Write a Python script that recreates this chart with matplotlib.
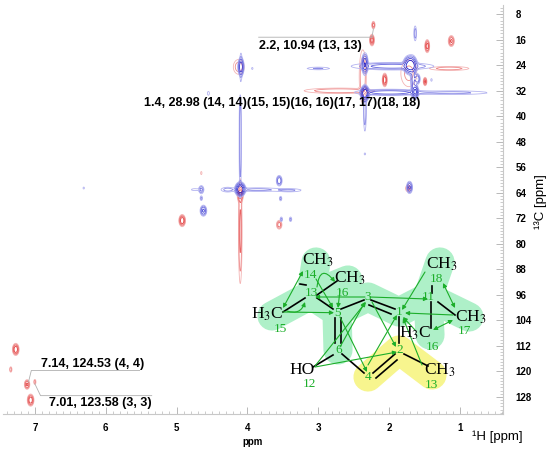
import numpy as np
import matplotlib
matplotlib.use("Agg")
import matplotlib.pyplot as plt
from matplotlib.ticker import MultipleLocator

plt.rcParams['font.family'] = ['Liberation Sans', 'DejaVu Sans']
plt.rcParams['mathtext.fontset'] = 'stix'

# ---- peak table (1H ppm, 13C ppm, 1H width, 13C width, intensity) ----
# positive = blue, negative = red
pos_h = [4.10, 4.10, 4.10, 3.85, 4.28, 3.40, 4.65, 4.74, 4.65, 4.62, 3.55, 3.53,
         3.52, 3.39, 1.71, 6.31, 2.34, 4.55, 4.09, 4.09, 3.93, 3.00, 1.70, 2.34,
         1.95, 2.34, 2.00, 2.34, 1.63, 1.10, 1.63, 1.60, 1.40, 1.66]
pos_c = [62.9, 50.0, 40.0, 63.0, 63.0, 63.2, 63.0, 63.0, 65.7, 69.6, 60.2, 65.8,
         72.3, 72.3, 62.3, 62.5, 51.8, 32.8, 24.5, 24.5, 25.0, 25.0, 23.9, 23.6,
         24.3, 32.8, 32.5, 38.0, 32.3, 32.6, 14.0, 28.3, 28.6, 28.0]
pos_wh = [0.03, 0.010, 0.008, 0.22, 0.06, 0.12, 0.02, 0.05, 0.012, 0.022, 0.02, 0.012,
          0.012, 0.012, 0.02, 0.010, 0.010, 0.012, 0.02, 0.01, 0.010, 0.12, 0.04, 0.02,
          0.30, 0.025, 0.25, 0.012, 0.02, 0.35, 0.012, 0.02, 0.010, 0.02]
pos_wc = [0.9, 9.0, 4.0, 0.4, 0.5, 0.35, 0.7, 0.3, 0.5, 0.8, 0.8, 0.5,
          0.5, 0.5, 0.9, 0.3, 0.3, 0.5, 1.3, 3.0, 0.3, 0.3, 1.2, 1.5,
          0.6, 1.0, 0.5, 4.0, 1.0, 0.4, 1.5, 0.8, 0.4, 3.0]
pos_amp = [1.0, 0.10, 0.05, 0.08, 0.08, 0.07, 0.15, 0.05, 0.08, 0.3, 0.25, 0.08,
           0.08, 0.08, 0.3, 0.05, 0.05, 0.06, 0.4, 0.08, 0.05, 0.07, 1.0, 0.5,
           0.2, 1.0, 0.2, 0.12, 0.6, 0.08, 0.1, 0.25, 0.05, 0.15]

neg_h = [2.22, 2.24, 1.46, 1.12, 2.06, 1.49, 1.15, 2.37, 2.70, 1.72, 4.10, 4.10,
         4.12, 4.92, 3.55, 4.65, 1.73, 7.27, 7.34, 7.11, 7.00, 7.06]
neg_c = [11.4, 16.1, 18.0, 16.4, 28.6, 29.1, 25.0, 27.5, 32.0, 26.5, 76.0, 64.8,
         24.5, 72.7, 74.0, 57.8, 62.6, 113.1, 119.4, 124.1, 123.3, 129.0]
neg_wh = [0.012, 0.015, 0.015, 0.02, 0.015, 0.012, 0.18, 0.03, 0.30, 0.08, 0.014, 0.02,
          0.05, 0.02, 0.02, 0.008, 0.02, 0.02, 0.010, 0.018, 0.010, 0.02]
neg_wc = [0.6, 0.8, 0.9, 0.8, 0.9, 0.6, 0.4, 5.0, 0.5, 3.0, 9.0, 1.0,
          1.5, 0.8, 0.7, 0.4, 0.6, 0.8, 0.5, 0.7, 0.5, 0.8]
neg_amp = [0.2, 0.4, 0.4, 0.3, 0.5, 0.3, 0.1, 0.12, 0.12, 0.08, 0.16, 0.3,
           0.1, 0.5, 0.2, 0.06, 0.15, 0.5, 0.12, 0.3, 0.10, 0.5]

levels = [0.03, 0.06, 0.12, 0.25, 0.5, 2.0]
blue_cols = ['#b4b4f0', '#8c8ce6', '#6464dc', '#3c3cd2', '#1e1ec8']
red_cols = ['#f4b4b4', '#ee8c8c', '#e86464', '#e23c3c', '#dc1e1e']

# annotations
labels = ['2.2, 10.94 (13, 13)',
          '1.4, 28.98 (14, 14)(15, 15)(16, 16)(17, 17)(18, 18)',
          '7.14, 124.53 (4, 4)',
          '7.01, 123.58 (3, 3)']
label_h = [3.84, 5.46, 6.92, 6.80]
label_c = [17.9, 35.8, 117.6, 129.8]


def surface(hh, cc, ph, pc, wh, wc, amp):
    z = np.zeros_like(hh)
    for h, c, a, b, s in zip(ph, pc, wh, wc, amp):
        z += s * np.exp(-0.5 * ((hh - h) / a) ** 2 - 0.5 * ((cc - c) / b) ** 2)
    return z


H = np.linspace(0.39, 7.46, 1500)
C = np.linspace(5.0, 133.3, 520)
HH, CC = np.meshgrid(H, C)
zpos = surface(HH, CC, pos_h, pos_c, pos_wh, pos_wc, pos_amp)
zneg = surface(HH, CC, neg_h, neg_c, neg_wh, neg_wc, neg_amp)

fig = plt.figure(figsize=(5.5, 4.49), dpi=100)
ax = fig.add_axes([3 / 550, 35.5 / 449, 500 / 550, 408.5 / 449])
ax.contour(HH, CC, zneg, levels=levels, colors=red_cols, linewidths=0.6)
ax.contour(HH, CC, zpos, levels=levels, colors=blue_cols, linewidths=0.6)

ax.set_xlim(7.45, 0.39)
ax.set_ylim(133.2, 5.1)
ax.yaxis.tick_right()
ax.xaxis.set_major_locator(MultipleLocator(1))
ax.xaxis.set_minor_locator(MultipleLocator(0.1))
ax.yaxis.set_major_locator(MultipleLocator(8))
ax.yaxis.set_minor_locator(MultipleLocator(1))
ax.set_xticks(np.arange(1, 8))
ax.set_yticks(np.arange(8, 129, 8))
for s in ['top', 'left']:
    ax.spines[s].set_visible(False)
for s in ['bottom', 'right']:
    ax.spines[s].set_color('#c8c8c8')
ax.tick_params(which='both', direction='in', color='#b8b8b8')
ax.tick_params(which='major', length=5, width=0.7)
ax.tick_params(which='minor', length=2.5, width=0.5)
ax.tick_params(axis='x', which='major', pad=7, labelsize=7)
ax.tick_params(axis='y', which='major', pad=9, labelsize=7)
for t in ax.get_xticklabels() + ax.get_yticklabels():
    t.set_fontweight('bold')

# leader lines
lc = '#b0b0b0'
ax.plot([3.84, 2.24, 2.22], [15.2, 15.2, 12.6], color=lc, lw=0.6)
ax.plot([7.09, 7.05, 5.52], [123.3, 119.7, 119.7], color=lc, lw=0.6)
ax.plot([7.0, 6.92, 5.35], [123.9, 127.6, 127.6], color=lc, lw=0.6)
for txt, h, c in zip(labels, label_h, label_c):
    ax.text(h, c, txt, fontsize=9, fontweight='bold', ha='left', va='center')

# axis titles
fig.text(253 / 550, 1 - 442 / 449, 'ppm', fontsize=7, fontweight='bold',
         ha='center', va='center')
fig.text(497 / 550, 1 - 437 / 449, '¹H [ppm]', fontsize=9.5, ha='center', va='center')
fig.text(541 / 550, 1 - 202 / 449, '¹³C [ppm]', fontsize=9.5, rotation=90,
         ha='center', va='center')

# ---- structure inset, drawn in pixel space ----
sx = fig.add_axes([0, 0, 1, 1])
sx.set_xlim(0, 550)
sx.set_ylim(449, 0)
sx.axis('off')
sx.patch.set_alpha(0)

green_hl = [[(272, 316), (311, 295), (316, 262)],
            [(311, 295), (348, 280)],
            [(311, 295), (337, 312), (338, 350)],
            [(337, 312), (368, 297), (399, 312), (428, 297), (440, 262)],
            [(428, 297), (469, 317)],
            [(428, 297), (430, 335)]]
for seg in green_hl:
    xs, ys = zip(*seg)
    sx.plot(xs, ys, color='#aef0c8', lw=21, solid_capstyle='round',
            solid_joinstyle='round', zorder=1)
sx.plot([368, 399, 432], [377, 350, 375], color='#f7f58e', lw=21,
        solid_capstyle='round', solid_joinstyle='round', zorder=1)

bonds = [((283, 312), (305, 298)), ((317, 295), (337, 281)), ((317, 298), (333, 309)),
         ((341, 309), (364, 300)), ((371, 300), (395, 309)), ((369, 305), (391, 314)),
         ((335, 318), (335, 343)), ((341, 318), (341, 343)), ((342, 354), (364, 373)),
         ((333, 355), (313, 367)), ((373, 373), (395, 354)), ((376, 378), (397, 360)),
         ((404, 354), (428, 366)), ((399, 317), (399, 343)), ((438, 302), (455, 315)),
         ((430.7, 302), (430.7, 328)), ((431.7, 286), (431.7, 293)), ((300, 284), (306, 285))]
for a, b in bonds:
    sx.plot([a[0], b[0]], [a[1], b[1]], color='black', lw=1.2, zorder=3)

gc = '#1cae2a'
arrows = [((283, 308), (303, 271), '<|-|>', 0), ((283, 312), (334, 312.7), '-|>', 0),
          ((287, 311), (305, 302), '-|>', 0.5), ((316, 279), (333, 308), '-|>', 0),
          ((317, 287), (335, 282), '-|>', -1.2), ((365, 297), (315, 297), '-|>', 0),
          ((340, 290), (338, 308), '-|>', 0), ((315, 366), (366, 302), '-|>', 0),
          ((315, 367), (397, 352), '-|>', 0), ((340, 347), (365, 302), '-|>', 0),
          ((340, 317), (367, 372), '-|>', 0), ((372, 302), (396, 347), '-|>', 0),
          ((368, 365), (397, 315), '-|>', 0), ((425, 272), (402, 310), '-|>', 0),
          ((370, 297), (428, 299), '-|>', 0), ((443, 283), (455, 308), '<|-|>', 0),
          ((453, 315), (405, 313), '-|>', 0), ((453, 320), (433, 330), '<|-|>', 0),
          ((415, 330), (403, 317), '-|>', 0), ((422, 365), (403, 318), '-|>', 0)]
for a, b, style, rad in arrows:
    sx.annotate('', xy=b, xytext=a, zorder=4,
                arrowprops=dict(arrowstyle=style, color=gc, lw=0.8, mutation_scale=6,
                                shrinkA=0, shrinkB=0,
                                connectionstyle='arc3,rad=%s' % rad))

serif = ['Liberation Serif', 'DejaVu Serif']
groups = [('CH$_3$', 318, 260), ('CH$_3$', 350.3, 278.3), ('H$_3$C', 266.7, 314),
          ('HO', 301.7, 370), ('CH$_3$', 440.3, 370), ('CH$_3$', 442, 264),
          ('CH$_3$', 471.3, 317.3), ('H$_3$C', 415, 333.3)]
for txt, x, y in groups:
    sx.text(x, y, txt, fontsize=12.5, family=serif, ha='center', va='center', zorder=5)

numbers = [('14', 310, 275.5), ('16', 342.7, 293.3), ('13', 311, 293.3), ('15', 280, 329.3),
           ('5', 337.3, 312.7), ('3', 367.7, 297.3), ('1', 399.3, 311.7), ('6', 338.3, 350),
           ('4', 368.3, 376.7), ('2', 399.3, 350), ('12', 309.3, 384), ('13', 431.7, 385),
           ('11', 428.3, 297.3), ('18', 436, 279.3), ('17', 464, 330.7), ('16', 432.7, 347.3)]
for txt, x, y in numbers:
    sx.text(x, y, txt, fontsize=9.5, family=serif, color=gc, ha='center', va='center',
            zorder=5)

plt.savefig('out.png', dpi=100)
